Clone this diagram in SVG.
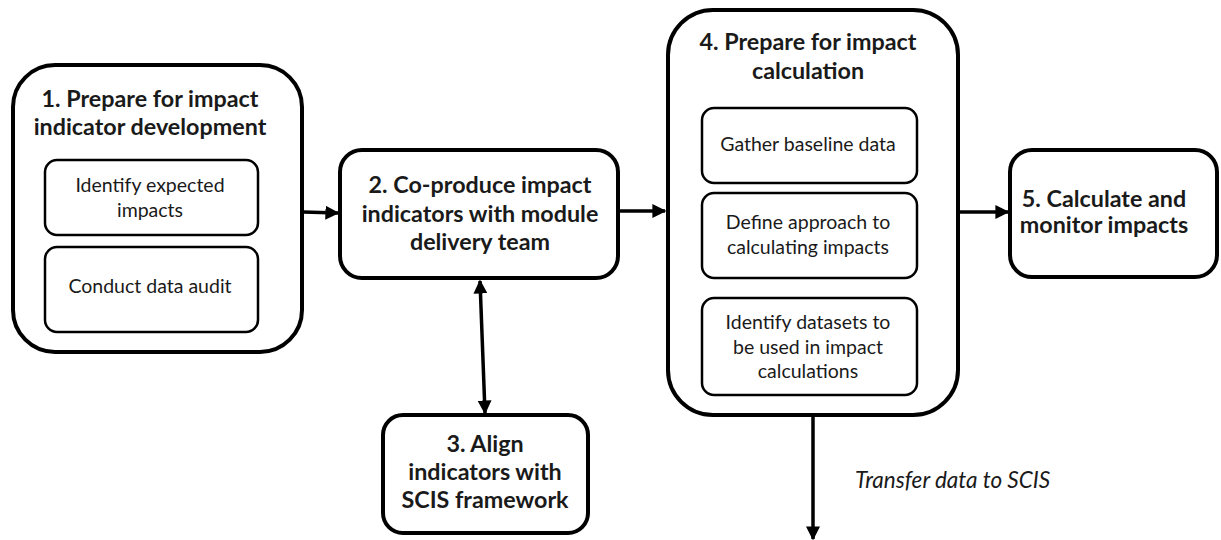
<svg xmlns="http://www.w3.org/2000/svg" width="1221" height="540" viewBox="0 0 1221 540">
<style>
.outer{fill:#fff;stroke:#000;stroke-width:4}
.inner{fill:#fff;stroke:#000;stroke-width:2.5}
.t{font-family:Lato,"Liberation Sans",sans-serif;font-weight:bold;font-size:23.3px;fill:#1a1a1a;text-anchor:middle}
.s{font-family:Lato,"Liberation Sans",sans-serif;font-size:19.5px;fill:#1a1a1a;text-anchor:middle}
.lbl{font-family:Lato,"Liberation Sans",sans-serif;font-style:italic;font-size:22.5px;fill:#1a1a1a}
.c{stroke:#000;stroke-width:3.5;fill:none}
</style>
<defs>
<marker id="ah" viewBox="0 0 10 10" refX="9" refY="5" markerWidth="4" markerHeight="4" orient="auto-start-reverse" markerUnits="strokeWidth">
<path d="M0,0 L10,5 L0,10 z" fill="#000"/>
</marker>
</defs>
<g id="connectors">
<line class="c" x1="303" y1="212" x2="338" y2="213" marker-end="url(#ah)"/>
<line class="c" x1="618" y1="211" x2="665" y2="211" marker-end="url(#ah)"/>
<line class="c" x1="480" y1="281" x2="485" y2="413" marker-start="url(#ah)" marker-end="url(#ah)"/>
<line class="c" x1="958" y1="212" x2="1008" y2="212" marker-end="url(#ah)"/>
<line class="c" x1="813" y1="415" x2="813" y2="539" marker-end="url(#ah)"/>
<text class="lbl" x="855" y="488">Transfer data to SCIS</text>
</g>
<g id="node1">
<rect class="outer" x="13" y="65" width="289" height="287" rx="42"/>
<text class="t" x="150" y="107">1. Prepare for impact</text>
<text class="t" x="150" y="135">indicator development</text>
<rect class="inner" x="45" y="160" width="213" height="75" rx="12"/>
<text class="s" x="150" y="192">Identify expected</text>
<text class="s" x="150" y="217">impacts</text>
<rect class="inner" x="45" y="247" width="213" height="85" rx="12"/>
<text class="s" x="150" y="293">Conduct data audit</text>
</g>
<g id="node2">
<rect class="outer" x="340" y="150" width="278" height="128" rx="22"/>
<text class="t" x="480" y="193">2. Co-produce impact</text>
<text class="t" x="480" y="222">indicators with module</text>
<text class="t" x="480" y="250">delivery team</text>
</g>
<g id="node3">
<rect class="outer" x="383" y="415" width="205" height="118" rx="20"/>
<text class="t" x="485" y="452">3. Align</text>
<text class="t" x="485" y="480">indicators with</text>
<text class="t" x="485" y="508">SCIS framework</text>
</g>
<g id="node4">
<rect class="outer" x="668" y="10" width="290" height="405" rx="45"/>
<text class="t" x="808" y="50">4. Prepare for impact</text>
<text class="t" x="808" y="79">calculation</text>
<rect class="inner" x="702" y="108" width="215" height="75" rx="12"/>
<text class="s" x="808" y="151">Gather baseline data</text>
<rect class="inner" x="702" y="193" width="215" height="85" rx="12"/>
<text class="s" x="808" y="229">Define approach to</text>
<text class="s" x="808" y="254">calculating impacts</text>
<rect class="inner" x="702" y="298" width="215" height="97" rx="12"/>
<text class="s" x="808" y="329">Identify datasets to</text>
<text class="s" x="808" y="354">be used in impact</text>
<text class="s" x="808" y="378">calculations</text>
</g>
<g id="node5">
<rect class="outer" x="1010" y="150" width="207" height="127" rx="22"/>
<text class="t" x="1104" y="207">5. Calculate and</text>
<text class="t" x="1104" y="233">monitor impacts</text>
</g>
</svg>
